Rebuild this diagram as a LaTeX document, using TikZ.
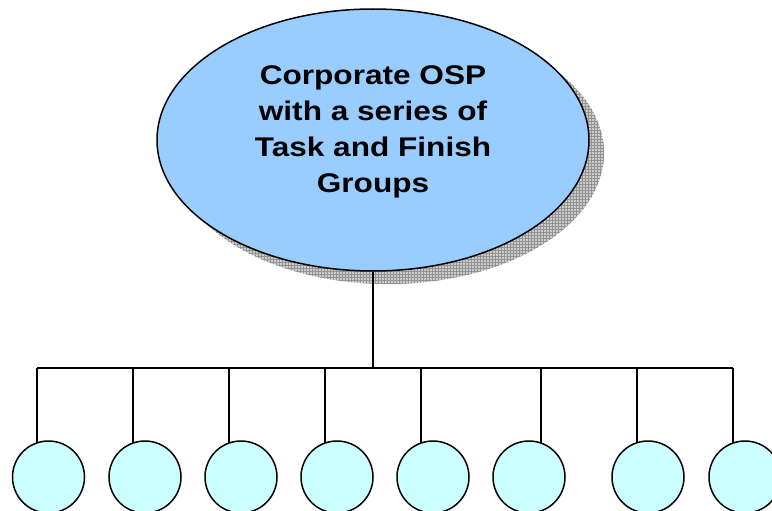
\documentclass[tikz,border=0pt]{standalone}
\usepackage{fontspec}
\newfontfamily\titlefont[FakeStretch=1.17]{Liberation Sans}
\usetikzlibrary{shapes.geometric,patterns,backgrounds}
\definecolor{ovalblue}{HTML}{99CCFF}
\definecolor{leafcyan}{HTML}{CCFFFF}
\tikzset{
  line/.style={draw=black, line width=1.5pt},
  oval/.style={ellipse, draw=black, line width=1.5pt, fill=ovalblue, minimum width=432pt, minimum height=262pt, inner sep=0pt},
  shadowoval/.style={ellipse, pattern=grid, pattern color=gray!85, minimum width=432pt, minimum height=262pt, inner sep=0pt},
  leaf/.style={circle, draw=black, line width=1.5pt, fill=leafcyan, minimum size=72pt, inner sep=0pt},
  title/.style={align=center, font=\titlefont\bfseries\fontsize{27}{36}\selectfont}
}
\begin{document}
\begin{tikzpicture}[x=1pt,y=-1pt]
\useasboundingbox (0,0) rectangle (772,511);
\clip (0,0) rectangle (772,511);
\node[ellipse, fill=gray!40, minimum width=432pt, minimum height=262pt, inner sep=0pt] (shadowbase) at (388,153) {};
\node[shadowoval] (shadow) at (388,153) {};
\node[oval] (top) at (373,140) {};
\node[title] (label) at (373,132) {Corporate OSP\\with a series of\\Task and Finish\\Groups};
\foreach \i/\cx in {1/48.5,2/145,3/241,4/337,5/433,6/529,7/648,8/745}{
  \node[leaf] (c\i) at (\cx,477) {};
}
\foreach \i/\bx in {1/37,2/133,3/229,4/325,5/421,6/541,7/637,8/733}{
  \coordinate (b\i) at (\bx,368);
}
\coordinate (hub) at (373,368);
\draw[line] (top.south) -- (hub);
\draw[line] (b1) -- (b8);
\begin{scope}[on background layer]
\foreach \i in {1,...,8}{
  \draw[line] (b\i) -- (b\i |- c\i.center);
}
\end{scope}
\end{tikzpicture}
\end{document}
